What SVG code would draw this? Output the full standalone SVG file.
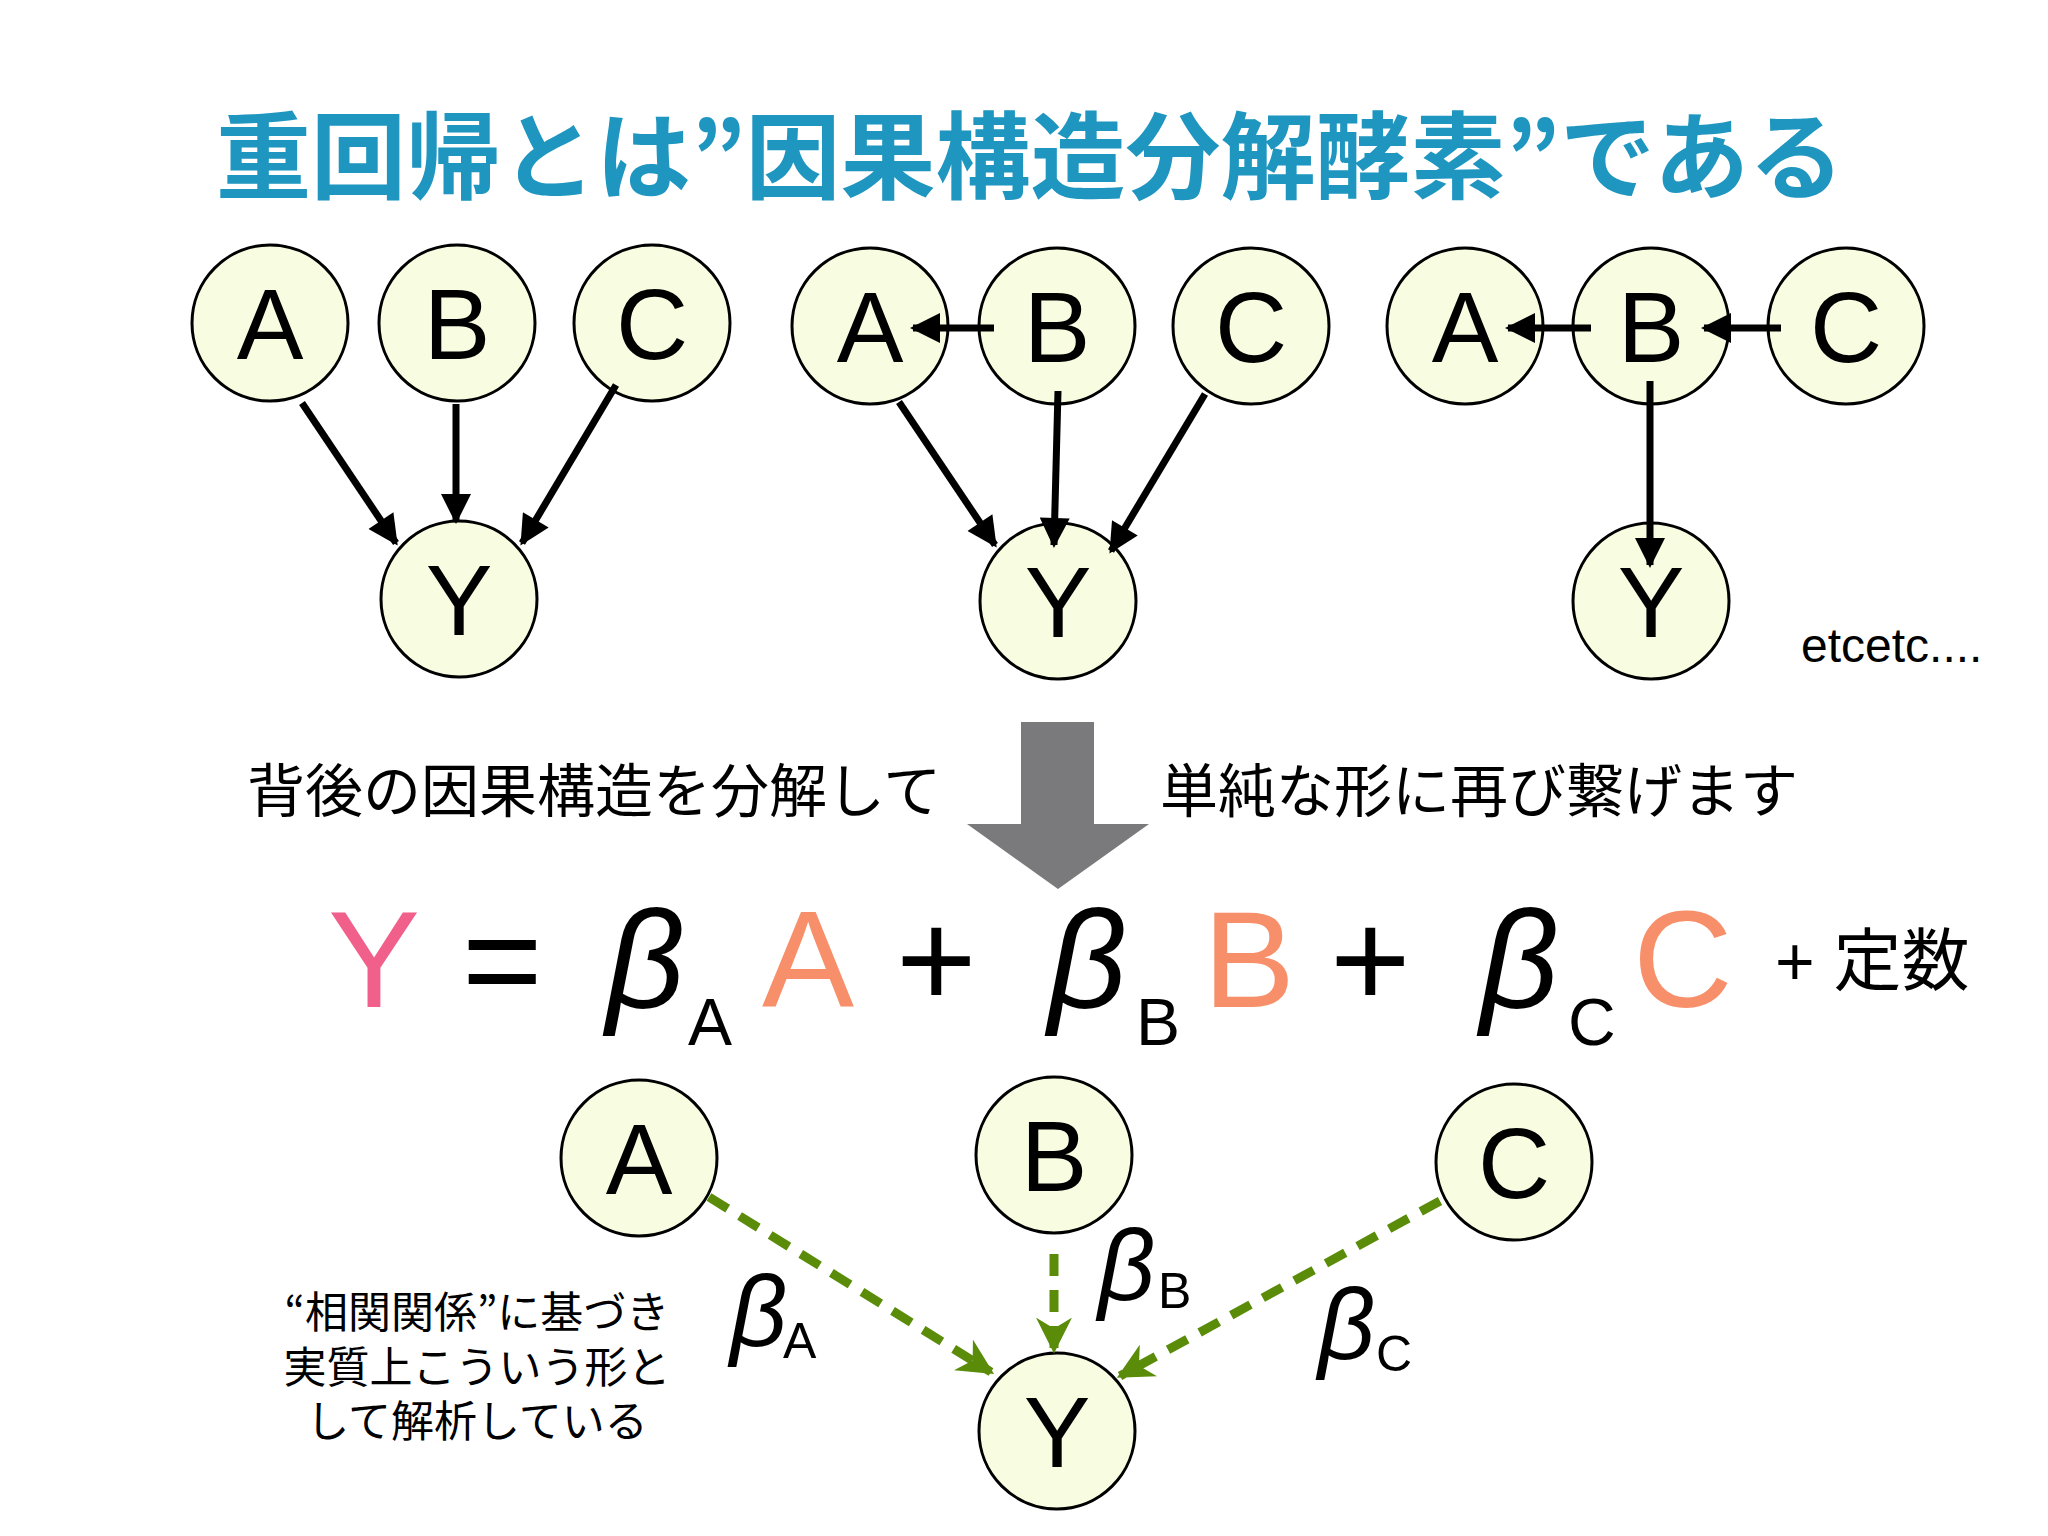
<svg xmlns="http://www.w3.org/2000/svg" width="2048" height="1536" viewBox="0 0 2048 1536">
<defs>
<marker id="ah" viewBox="0 0 10 10" refX="9" refY="5" markerWidth="34" markerHeight="30" orient="auto" markerUnits="userSpaceOnUse"><path d="M0,0L10,5L0,10z" fill="#000"/></marker>
<marker id="gh" viewBox="0 0 10 10" refX="9" refY="5" markerWidth="36" markerHeight="36" orient="auto" markerUnits="userSpaceOnUse"><path d="M0,0L10,5L0,10L3,5z" fill="#5a8c0a"/></marker>
</defs>
<style>
.n circle{fill:#f8fce0;stroke:#000;stroke-width:3}
.n text{font-family:"Liberation Sans",Arial,sans-serif;font-size:100px;text-anchor:middle;fill:#000}
.e{stroke:#000;stroke-width:7;fill:none;marker-end:url(#ah)}
.g{stroke:#5a8c0a;stroke-width:9;stroke-dasharray:22 14;fill:none;marker-end:url(#gh)}
.jp{font-family:"Noto Sans CJK JP","Noto Sans",sans-serif}
.eq{font-family:"Liberation Sans",Arial,sans-serif}
.b{font-style:italic}
</style>
<rect width="2048" height="1536" fill="#fff"/>
<text x="1030" y="192" class="jp" font-size="95" font-weight="bold" fill="#1e96c0" text-anchor="middle">重回帰とは”因果構造分解酵素”である</text>

<g id="n_A1" class="n"><circle cx="270" cy="323" r="78"/><text x="270" y="359">A</text></g>
<g id="n_B1" class="n"><circle cx="457" cy="323" r="78"/><text x="457" y="359">B</text></g>
<g id="n_C1" class="n"><circle cx="652" cy="323" r="78"/><text x="652" y="359">C</text></g>
<g id="n_Y1" class="n"><circle cx="459" cy="599" r="78"/><text x="459" y="635">Y</text></g>
<g id="n_A2" class="n"><circle cx="870" cy="326" r="78"/><text x="870" y="362">A</text></g>
<g id="n_B2" class="n"><circle cx="1057" cy="326" r="78"/><text x="1057" y="362">B</text></g>
<g id="n_C2" class="n"><circle cx="1251" cy="326" r="78"/><text x="1251" y="362">C</text></g>
<g id="n_Y2" class="n"><circle cx="1058" cy="601" r="78"/><text x="1058" y="637">Y</text></g>
<g id="n_A3" class="n"><circle cx="1465" cy="326" r="78"/><text x="1465" y="362">A</text></g>
<g id="n_B3" class="n"><circle cx="1651" cy="326" r="78"/><text x="1651" y="362">B</text></g>
<g id="n_C3" class="n"><circle cx="1846" cy="326" r="78"/><text x="1846" y="362">C</text></g>
<g id="n_Y3" class="n"><circle cx="1651" cy="601" r="78"/><text x="1651" y="637">Y</text></g>

<g id="n_A4" class="n"><circle cx="639" cy="1158" r="78"/><text x="639" y="1194">A</text></g>
<g id="n_B4" class="n"><circle cx="1054" cy="1155" r="78"/><text x="1054" y="1191">B</text></g>
<g id="n_C4" class="n"><circle cx="1514" cy="1162" r="78"/><text x="1514" y="1198">C</text></g>
<g id="n_Y4" class="n"><circle cx="1057" cy="1431" r="78"/><text x="1057" y="1467">Y</text></g>

<g id="connectors">
<line class="e" x1="302" y1="403" x2="396" y2="543"/>
<line class="e" x1="456" y1="404" x2="456" y2="521"/>
<line class="e" x1="616" y1="385" x2="522" y2="543"/>
<line class="e" x1="899" y1="402" x2="995" y2="545"/>
<line class="e" x1="1058" y1="391" x2="1054" y2="545"/>
<line class="e" x1="1205" y1="394" x2="1111" y2="551"/>
<line class="e" x1="994" y1="328" x2="913" y2="328"/>
<line class="e" x1="1591" y1="328" x2="1508" y2="328"/>
<line class="e" x1="1781" y1="328" x2="1704" y2="328"/>
<line class="e" x1="1650" y1="381" x2="1650" y2="565"/>
<line class="g" x1="709" y1="1197" x2="991" y2="1372"/>
<line class="g" x1="1054" y1="1254" x2="1054" y2="1350"/>
<line class="g" x1="1440" y1="1201" x2="1120" y2="1376"/>
</g>

<text x="1801" y="662" class="eq" font-size="48">etcetc....</text>

<g id="bigarrow"><path d="M1021,722H1094V824H1149L1058,889L967,824H1021Z" fill="#7a797b"/></g>
<text x="247" y="812" class="jp" font-size="58">背後の因果構造を分解して</text>
<text x="1160" y="812" class="jp" font-size="58">単純な形に再び繋げます</text>

<g id="equation" class="eq">
<text x="328" y="1007" font-size="138" fill="#f0608a">Y</text>
<text x="462" y="1007" font-size="138">=</text>
<text x="606" y="1007" font-size="138" class="b">β</text>
<text x="688" y="1045" font-size="66">A</text>
<text x="762" y="1007" font-size="138" fill="#f7906a">A</text>
<text x="896" y="1007" font-size="138">+</text>
<text x="1048" y="1007" font-size="138" class="b">β</text>
<text x="1136" y="1045" font-size="66">B</text>
<text x="1203" y="1007" font-size="138" fill="#f7906a">B</text>
<text x="1330" y="1007" font-size="138">+</text>
<text x="1480" y="1007" font-size="138" class="b">β</text>
<text x="1568" y="1045" font-size="66">C</text>
<text x="1633" y="1007" font-size="138" fill="#f7906a">C</text>
<text x="1775" y="985" font-size="68">+ <tspan class="jp">定数</tspan></text>
</g>

<g class="eq">
<text x="730" y="1346" font-size="100" class="b">β</text>
<text x="783" y="1358" font-size="50">A</text>
<text x="1098" y="1300" font-size="100" class="b">β</text>
<text x="1158" y="1308" font-size="50">B</text>
<text x="1318" y="1359" font-size="100" class="b">β</text>
<text x="1376" y="1371" font-size="50">C</text>
</g>

<g class="jp" font-size="43" text-anchor="middle">
<text x="477" y="1328">“相関関係”に基づき</text>
<text x="477" y="1383">実質上こういう形と</text>
<text x="477" y="1437">して解析している</text>
</g>
</svg>
